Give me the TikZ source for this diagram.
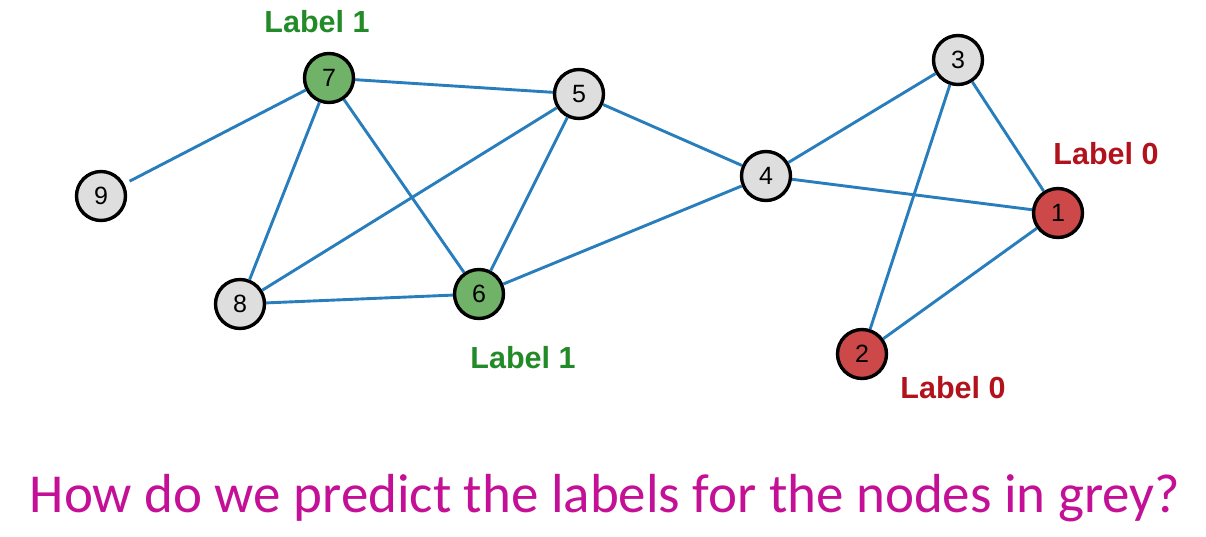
\documentclass[tikz,border=0pt]{standalone}
\usepackage{fontspec}
\setmainfont{Liberation Sans}
\newfontfamily\calibri{Carlito}
\definecolor{edgeblue}{RGB}{40,125,188}
\definecolor{gfill}{RGB}{112,178,104}
\definecolor{rfill}{RGB}{205,72,72}
\definecolor{nfill}{RGB}{222,222,222}
\definecolor{lgreen}{RGB}{34,139,40}
\definecolor{lred}{RGB}{178,18,28}
\definecolor{qmag}{RGB}{196,16,150}
\begin{document}
\begin{tikzpicture}[x=1pt,y=-1pt,
  vnode/.style={circle,draw=black,line width=3.4pt,minimum size=49pt,inner sep=0pt,font=\fontsize{25}{27}\selectfont},
  grey/.style={vnode,fill=nfill},
  green/.style={vnode,fill=gfill},
  red/.style={vnode,fill=rfill},
  edge/.style={draw=edgeblue,line width=2.9pt},
  lab/.style={font=\fontsize{30.5}{32}\selectfont\bfseries},
]
\useasboundingbox (0,0) rectangle (1206,536);
\fill[white] (0,0) rectangle (1206,536);
\node[green] (n7) at (329,78) {7};
\node[grey] (n5) at (579,94) {5};
\node[grey] (n9) at (101,196) {9};
\node[grey] (n8) at (240,304) {8};
\node[green] (n6) at (479,294) {6};
\node[grey] (n4) at (766,176) {4};
\node[grey] (n3) at (958,60) {3};
\node[red] (n1) at (1058,213) {1};
\node[red] (n2) at (862,354) {2};
\draw[edge,shorten <=6pt] (n9) -- (n7);
\draw[edge] (n7) -- (n5);
\draw[edge] (n7) -- (n8);
\draw[edge] (n7) -- (n6);
\draw[edge] (n5) -- (n8);
\draw[edge] (n5) -- (n6);
\draw[edge] (n5) -- (n4);
\draw[edge] (n8) -- (n6);
\draw[edge] (n6) -- (n4);
\draw[edge] (n4) -- (n3);
\draw[edge] (n4) -- (n1);
\draw[edge] (n3) -- (n1);
\draw[edge] (n3) -- (n2);
\draw[edge] (n2) -- (n1);
\node[lab,text=lgreen] (l7) at (317,22) {Label 1};
\node[lab,text=lgreen] (l6) at (523,358) {Label 1};
\node[lab,text=lred] (l1) at (1106,154) {Label 0};
\node[lab,text=lred] (l2) at (953,388) {Label 0};
\node[font=\calibri\fontsize{55}{60}\selectfont,text=qmag,anchor=base] (q) at (605,512) {How do we predict the labels for the nodes in grey?};
\end{tikzpicture}
\end{document}
